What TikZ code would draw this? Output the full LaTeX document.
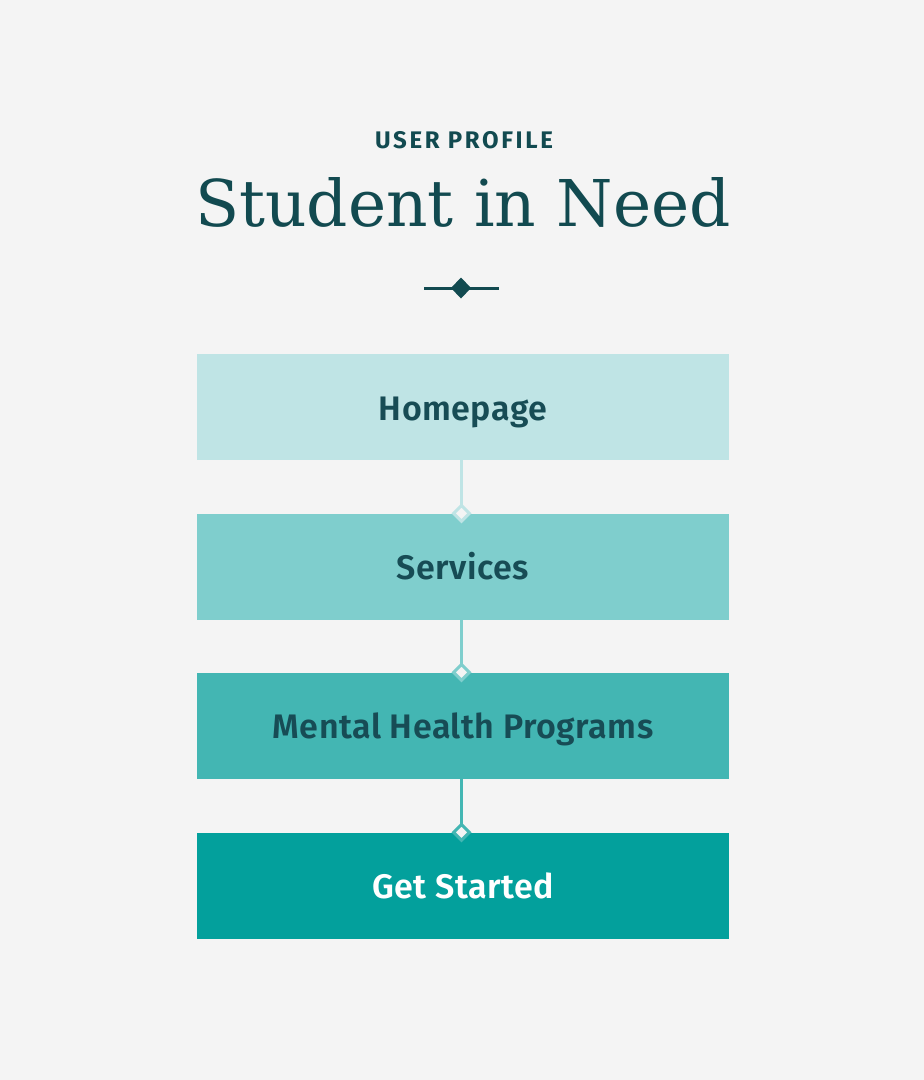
\documentclass[tikz,border=0pt]{standalone}
\usepackage{fontspec}
\setmainfont{DejaVu Serif}
\newfontfamily\sansf{Fira Sans}
\newfontfamily\semif{Fira Sans SemiBold}
\usetikzlibrary{shapes.geometric}
\definecolor{bg}{HTML}{F4F4F4}
\definecolor{cA}{HTML}{BFE4E5}
\definecolor{cB}{HTML}{7FCECD}
\definecolor{cC}{HTML}{43B6B3}
\definecolor{cD}{HTML}{03A09C}
\definecolor{ink}{HTML}{174C55}
\definecolor{titleink}{HTML}{124A50}
\tikzset{
  stepbox/.style={rectangle, minimum width=532pt, minimum height=106pt, inner sep=0pt,
    text height=26pt, text depth=0pt, text=ink,
    font=\semif\fontsize{34}{38}\selectfont\addfontfeature{LetterSpace=1.5}},
  link/.style={line width=3pt},
  joint/.style={diamond, inner sep=0pt, minimum width=17pt, minimum height=17pt,
    line width=3pt, fill=bg},
}
\begin{document}
\begin{tikzpicture}[x=1pt,y=-1pt]
\fill[bg] (0,0) rectangle (924,1080);
\useasboundingbox (0,0) rectangle (924,1080);
% header
\node[anchor=base, text=titleink, font=\sansf\bfseries\fontsize{24}{27}\selectfont\addfontfeature{LetterSpace=11}] (kicker) at (464,148) {USER PROFILE};
\node[anchor=base, text=titleink, font=\fontsize{64.5}{70}\selectfont] (title) at (463,226) {Student in Need};
\draw[titleink, line width=3pt] (424,288) -- (499,288);
\fill[titleink] (451,288) -- (461,277.5) -- (471,288) -- (461,298.5) -- cycle;
% boxes
\node[stepbox, fill=cA] (home) at (463,407) {Homepage};
\node[stepbox, fill=cB] (serv) at (463,566.5) {Services};
\node[stepbox, fill=cC] (ment) at (463,725.5) {Mental Health Programs};
\node[stepbox, fill=cD, text=white] (start) at (463,885.5) {Get Started};
% connectors
\draw[link, cA] ([xshift=-1.5pt]home.south) -- ([xshift=-1.5pt]serv.north);
\node[joint, draw=cA] (j1) at ([xshift=-1.5pt]serv.north) {};
\draw[link, cB] ([xshift=-1.5pt]serv.south) -- ([xshift=-1.5pt]ment.north);
\node[joint, draw=cB] (j2) at ([xshift=-1.5pt]ment.north) {};
\draw[link, cC] ([xshift=-1.5pt]ment.south) -- ([xshift=-1.5pt]start.north);
\node[joint, draw=cC] (j3) at ([xshift=-1.5pt]start.north) {};
\end{tikzpicture}
\end{document}
